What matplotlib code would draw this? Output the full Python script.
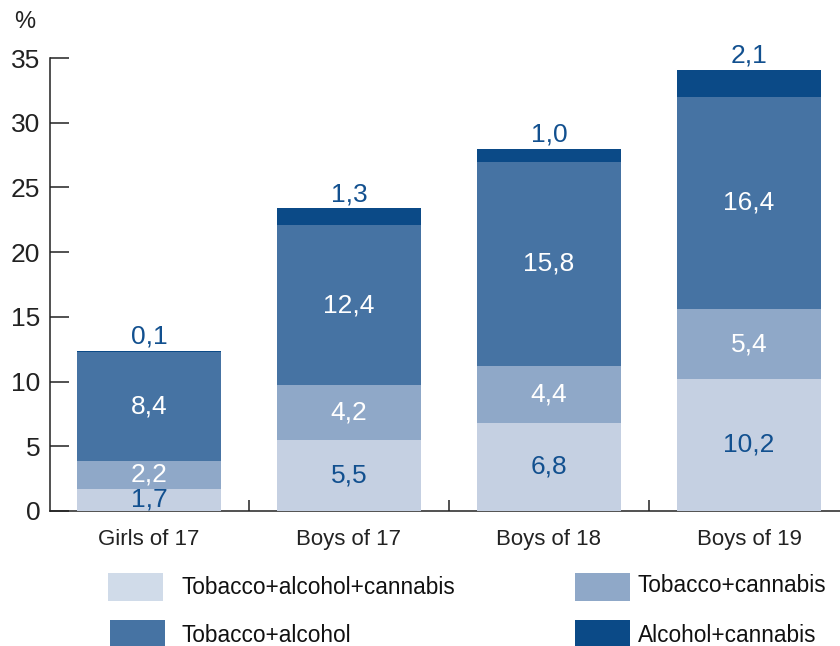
import matplotlib
matplotlib.use("Agg")
import matplotlib.pyplot as plt
from matplotlib.patches import Rectangle

plt.rcParams['font.family'] = ['Liberation Sans', 'DejaVu Sans']

categories = ["Girls of 17", "Boys of 17", "Boys of 18", "Boys of 19"]
series_names = ["Tobacco+alcohol+cannabis", "Tobacco+cannabis",
                "Tobacco+alcohol", "Alcohol+cannabis"]
tac = [1.7, 5.5, 6.8, 10.2]
tc = [2.2, 4.2, 4.4, 5.4]
ta = [8.4, 12.4, 15.8, 16.4]
ac = [0.1, 1.3, 1.0, 2.1]
series = [tac, tc, ta, ac]
yticks = [0, 5, 10, 15, 20, 25, 30, 35]

colors = ["#c5d0e2", "#8fa8c8", "#4673a3", "#0b4a87"]
legend_colors = ["#d0dbe9", "#8fa8c8", "#4673a3", "#0b4a87"]
label_colors = ["#12508f", "white", "white", "#12508f"]
dark = "#222222"

W, H = 840, 646
fig = plt.figure(figsize=(W / 100, H / 100), dpi=100)
ax = fig.add_axes([50 / W, (H - 511) / H, 790 / W, 453 / H])

x = list(range(len(categories)))
width = 0.72
bottoms = [0.0] * len(categories)
for si, vals in enumerate(series):
    ax.bar(x, vals, width=width, bottom=bottoms, color=colors[si],
           edgecolor='none', linewidth=0, zorder=2)
    for i, v in enumerate(vals):
        txt = f"{v:.1f}".replace('.', ',')
        if si == len(series) - 1:
            ax.annotate(txt, (x[i], bottoms[i] + v), xytext=(0, 1.5),
                        textcoords='offset points', ha='center', va='bottom',
                        fontsize=19, color=label_colors[si], zorder=3)
        else:
            ax.text(x[i], bottoms[i] + v / 2, txt, ha='center', va='center',
                    fontsize=19, color=label_colors[si], zorder=3)
    bottoms = [b + v for b, v in zip(bottoms, vals)]

ax.set_ylim(0, 35)
ax.set_xlim(-0.495, 3.455)
ax.set_yticks(yticks)
ax.set_yticklabels([str(t) for t in yticks], fontsize=19, color=dark)
ax.tick_params(axis='y', direction='in', length=13.7, width=1.1,
               color=dark, pad=7)
ax.set_xticks(x)
ax.set_xticklabels(categories, fontsize=16, color=dark)
ax.tick_params(axis='x', which='major', length=0, pad=13)
ax.set_xticks([0.5, 1.5, 2.5], minor=True)
ax.tick_params(axis='x', which='minor', direction='in', length=8,
               width=1.1, color=dark)

for s in ['top', 'right']:
    ax.spines[s].set_visible(False)
for s in ['left', 'bottom']:
    ax.spines[s].set_linewidth(1.1)
    ax.spines[s].set_color(dark)
    ax.spines[s].set_zorder(1)

fig.text(25 / W, 1 - 22 / H, "%", fontsize=17, color=dark,
         ha='center', va='center')

# legend
leg_pos = [(108, 573, 181, 588), (575, 573, 638, 586),
           (110, 620, 181, 636), (575, 620, 638, 635)]
for i, name in enumerate(series_names):
    bx, by, tx, ty = leg_pos[i]
    fig.patches.append(Rectangle((bx / W, 1 - (by + 28) / H), 55 / W, 28 / H,
                                 transform=fig.transFigure,
                                 facecolor=legend_colors[i], edgecolor='none'))
    fig.text(tx / W, 1 - ty / H, name, fontsize=16.3, color='#111111',
             ha='left', va='center')

fig.savefig("out.png", dpi=100)
